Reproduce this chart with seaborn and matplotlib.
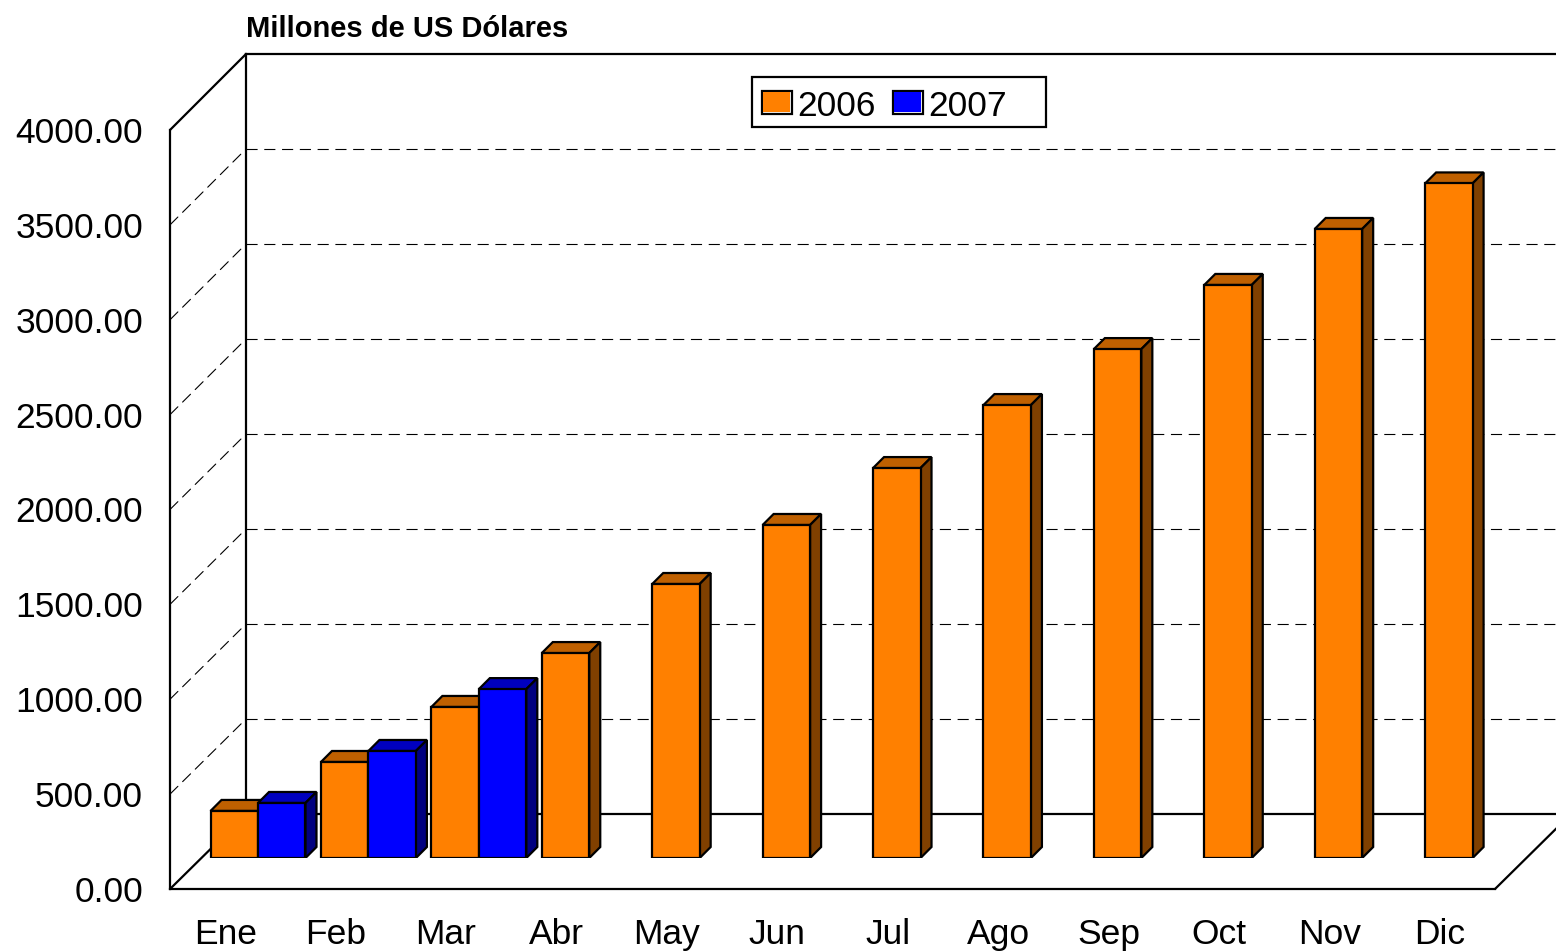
import numpy as np
import pandas as pd
import matplotlib
matplotlib.use("Agg")
import matplotlib.pyplot as plt
import seaborn as sns
from matplotlib.legend_handler import HandlerBase
from matplotlib.patches import ConnectionPatch, Patch, Polygon, Rectangle

months = ['Ene', 'Feb', 'Mar', 'Abr', 'May', 'Jun', 'Jul', 'Ago', 'Sep', 'Oct', 'Nov', 'Dic']
values_2006 = [248, 506, 796, 1080, 1444, 1755, 2055, 2387, 2682, 3020, 3315, 3555]
values_2007 = [290, 564, 890, np.nan, np.nan, np.nan, np.nan, np.nan, np.nan, np.nan, np.nan, np.nan]
y_ticks = [0, 500, 1000, 1500, 2000, 2500, 3000, 3500, 4000]

W, H = 1556, 951
colors = {'2006': '#FF8000', '2007': '#0000FF'}
top_colors = {'#FF8000': '#BF6000', '#0000FF': '#0000BF'}
side_colors = {'#FF8000': '#804000', '#0000FF': '#000080'}
LINE = 1.6
DASH = (0, (10, 6))


def px_axes(fig, left, right, top, bottom, **kwargs):
    """Add axes given in picture pixels (y counted from the top)"""
    return fig.add_axes([left / W, 1 - bottom / H, (right - left) / W, (bottom - top) / H], **kwargs)


class BoxHandler(HandlerBase):
    """Legend key with the little white bevel of the original"""
    def create_artists(self, legend, orig, x, y, w, h, fontsize, trans):
        y = y + 2.2
        box = Rectangle((x, y), w, h, facecolor='white', edgecolor='black', lw=LINE, transform=trans)
        fill = Rectangle((x + 0.5, y + 1.5), w - 2, h - 2, facecolor=orig.get_facecolor(),
                         edgecolor='none', transform=trans)
        return [box, fill]


def main():
    df = pd.DataFrame({
        'mes': months * 2,
        'anio': ['2006'] * 12 + ['2007'] * 12,
        'valor': values_2006 + values_2007,
    })

    sns.set_style('white')
    plt.rcParams['font.family'] = ['Liberation Sans', 'DejaVu Sans']
    plt.rcParams['text.color'] = 'black'
    plt.rcParams['xtick.color'] = 'black'
    plt.rcParams['ytick.color'] = 'black'
    plt.rcParams['axes.labelcolor'] = 'black'
    fig = plt.figure(figsize=(W / 100, H / 100), dpi=100, facecolor='white')

    # Back wall, front frame and bars are three axes with the same scales, shifted
    wall = px_axes(fig, 246, 1571, 54, 814, zorder=0)
    front = px_axes(fig, 170, 1495, 130, 889, zorder=1, facecolor='none')
    bars = px_axes(fig, 202.8, 1527.8, 99, 858, zorder=2, facecolor='none')

    for ax in (wall, front, bars):
        ax.set_xlim(-0.5, 11.5)
        ax.set_ylim(0, 4000)

    # Back wall
    wall.set_xticks([])
    wall.set_yticks(y_ticks[1:-1])
    wall.set_yticklabels([])
    wall.tick_params(length=0)
    wall.grid(axis='y', color='black', lw=0.8, ls=DASH)
    for side in ('left', 'top', 'bottom'):
        wall.spines[side].set_linewidth(LINE)
        wall.spines[side].set_color('black')
    wall.spines['right'].set_visible(False)
    wall.set_title('Millones de US Dólares', loc='left', fontsize=21, fontweight='bold', pad=12,
                   color='black')

    # Front frame with the axis labels
    front.set_xticks(range(12))
    front.set_xticklabels(months)
    front.set_yticks(y_ticks)
    front.set_yticklabels([f'{v:.2f}' for v in y_ticks])
    front.tick_params(axis='x', length=0, pad=21, labelsize=25.5)
    front.tick_params(axis='y', length=0, pad=19.5, labelsize=25.5)
    for side in ('top', 'right'):
        front.spines[side].set_visible(False)
    for side in ('left', 'bottom'):
        front.spines[side].set_linewidth(LINE)
        front.spines[side].set_color('black')

    # Lines running from the front frame back to the wall
    for v in y_ticks:
        solid = v in (0, 4000)
        wall.add_artist(ConnectionPatch(
            xyA=(-0.5, v), coordsA=front.transData, xyB=(-0.5, v), coordsB=wall.transData,
            color='black', lw=LINE if solid else 0.8, ls='-' if solid else DASH, clip_on=False))
    wall.add_artist(ConnectionPatch(
        xyA=(11.5, 0), coordsA=front.transData, xyB=(11.5, 0), coordsB=wall.transData,
        color='black', lw=LINE, clip_on=False))

    # Bars
    sns.barplot(data=df, x='mes', y='valor', hue='anio', order=months, palette=colors, ax=bars,
                width=0.86, gap=0, saturation=1, errorbar=None, edgecolor='black',
                linewidth=LINE, legend=False)
    bars.set_xlim(-0.5, 11.5)
    bars.set_ylim(0, 4000)
    bars.axis('off')

    # Depth of the bars: top and side faces taken from each drawn bar
    dx = 11 * 12 / 1325
    dy = 11 * 4000 / 759
    for patch in list(bars.patches):
        x0, w, h = patch.get_x(), patch.get_width(), patch.get_height()
        if not np.isfinite(h):
            continue
        face = matplotlib.colors.to_hex(patch.get_facecolor()).upper()
        x1 = x0 + w
        top = Polygon([(x0, h), (x1, h), (x1 + dx, h + dy), (x0 + dx, h + dy)],
                      facecolor=top_colors[face], edgecolor='black', lw=LINE, zorder=1.5)
        right = Polygon([(x1, 0), (x1, h), (x1 + dx, h + dy), (x1 + dx, dy)],
                        facecolor=side_colors[face], edgecolor='black', lw=LINE, zorder=1.5)
        bars.add_patch(top)
        bars.add_patch(right)
        patch.set_zorder(2)

    # Legend: box drawn on its own because the original has spare room on the right
    fig.add_artist(Rectangle((752 / W, 1 - 127 / H), 294 / W, 50 / H, transform=fig.transFigure,
                             facecolor='white', edgecolor='black', lw=LINE, zorder=5))
    handles = [Patch(facecolor=colors[k], label=k) for k in colors]
    fig.legend(handles=handles, handler_map={Patch: BoxHandler()}, ncol=2, frameon=False,
               loc='center left', bbox_to_anchor=(762 / W, 1 - 106 / H), borderpad=0, borderaxespad=0,
               fontsize=25.5, handlelength=0.85, handleheight=0.6, handletextpad=0.14,
               columnspacing=0.5).set_zorder(6)

    fig.savefig('out.png', dpi=100)
    plt.close(fig)


if __name__ == "__main__":
    main()
